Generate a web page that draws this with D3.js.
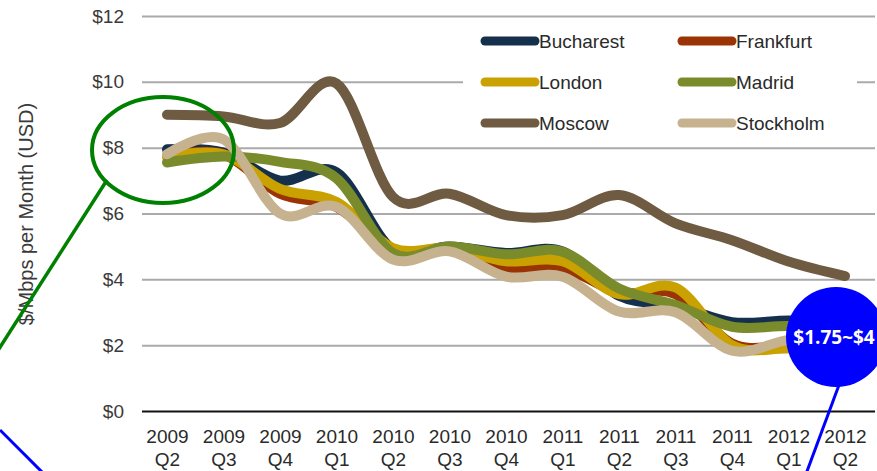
<!DOCTYPE html>
<html>
<head>
<meta charset="utf-8">
<script src="https://cdn.jsdelivr.net/npm/d3@7"></script>
<style>
  body { margin: 0; background: #fff; }
  svg { display: block; font-family: "Liberation Sans", Arial, sans-serif; }
</style>
</head>
<body>
<script>
// Data
const quarters = ["2009 Q2", "2009 Q3", "2009 Q4", "2010 Q1", "2010 Q2", "2010 Q3", "2010 Q4",
  "2011 Q1", "2011 Q2", "2011 Q3", "2011 Q4", "2012 Q1", "2012 Q2"];
const bucharest = [7.95, 7.85, 7.0, 7.25, 4.9, 5.0, 4.8, 4.85, 3.5, 3.2, 2.7, 2.75, 2.7];
const frankfurt = [7.75, 7.8, 6.6, 6.2, 4.9, 4.9, 4.35, 4.35, 3.6, 3.55, 2.05, 1.95, 1.75];
const london = [7.72, 7.8, 6.75, 6.35, 4.95, 4.95, 4.55, 4.55, 3.55, 3.75, 2.0, 1.9, 1.85];
const madrid = [7.55, 7.73, 7.57, 7.07, 4.8, 5.0, 4.76, 4.84, 3.72, 3.22, 2.56, 2.58, 2.5];
const moscow = [9.0, 8.95, 8.75, 9.95, 6.5, 6.6, 5.95, 5.95, 6.56, 5.7, 5.19, 4.54, 4.1];
const stockholm = [7.8, 8.25, 6.0, 6.2, 4.6, 4.85, 4.08, 4.08, 3.02, 3.0, 1.83, 2.16, 2.3];
const cities = ["Bucharest", "Frankfurt", "London", "Madrid", "Moscow", "Stockholm"];
const yTicks = [0, 2, 4, 6, 8, 10, 12];
const badgeText = "$1.75~$4";

const colors = ["#15304d", "#9a3404", "#c9a202", "#7a8b2c", "#6f5b41", "#c6b28e"];
const allSeries = [bucharest, frankfurt, london, madrid, moscow, stockholm];

const w = 877;
const h = 471;
const gridLeft = 142;
const gridRight = 875;

const svg = d3.select("body").append("svg").attr("width", w).attr("height", h);

// scales
const x = d3.scalePoint().domain(quarters).range([167, 845]);
const y = d3.scaleLinear().domain([0, 12]).range([411, 16]);

// y axis + grid
const yAxis = d3.axisLeft(y)
  .tickValues(yTicks)
  .tickSize(-(gridRight - gridLeft))
  .tickPadding(18)
  .tickFormat(d => "$" + d);

const gy = svg.append("g")
  .attr("transform", "translate(" + gridLeft + ",0)")
  .call(yAxis);
gy.select(".domain").remove();
gy.selectAll(".tick line")
  .attr("stroke", d => d === 0 ? "#111" : "#aaa")
  .attr("stroke-width", 2);
gy.selectAll(".tick text")
  .attr("fill", "#3a3a3a")
  .style("font-size", "19px");

// y title
svg.append("text")
  .attr("transform", "translate(33,214) rotate(-90)")
  .attr("text-anchor", "middle")
  .attr("fill", "#3a3a3a")
  .style("font-size", "20px")
  .text("$/Mbps per Month (USD)");

// x axis, two line labels
const xAxis = d3.axisBottom(x).tickSize(0).tickPadding(0);
const gx = svg.append("g")
  .attr("transform", "translate(0,411)")
  .call(xAxis);
gx.select(".domain").remove();
gx.selectAll(".tick text")
  .attr("fill", "#2a2a2a")
  .style("font-size", "19px")
  .text(null)
  .attr("y", 0)
  .attr("dy", null)
  .each(function (d) {
    const parts = d.split(" ");
    const t = d3.select(this);
    t.append("tspan").attr("x", 0).attr("y", 32).text(parts[0]);
    t.append("tspan").attr("x", 0).attr("y", 55).text(parts[1]);
  });

// lines
const line = d3.line()
  .x((d, i) => x(quarters[i]))
  .y(d => y(d))
  .curve(d3.curveCardinal.tension(0));

svg.append("g")
  .selectAll("path")
  .data(allSeries)
  .join("path")
  .attr("d", line)
  .attr("fill", "none")
  .attr("stroke", (d, i) => colors[i])
  .attr("stroke-width", 10)
  .attr("stroke-linecap", "round")
  .attr("stroke-linejoin", "round");

// legend box covers grid lines
svg.append("rect")
  .attr("x", 463).attr("y", 21)
  .attr("width", 394).attr("height", 123)
  .attr("fill", "#fff");

const legend = svg.append("g")
  .selectAll("g")
  .data(cities)
  .join("g")
  .attr("transform", (d, i) => "translate(" + (i % 2 === 0 ? 485 : 682) + "," + (41 + Math.floor(i / 2) * 41) + ")");
legend.append("line")
  .attr("x1", 0).attr("x2", 50)
  .attr("stroke", (d, i) => colors[i])
  .attr("stroke-width", 9)
  .attr("stroke-linecap", "round");
legend.append("text")
  .attr("x", 54)
  .attr("dy", "0.35em")
  .attr("fill", "#2a2a2a")
  .style("font-size", "19px")
  .text(d => d);

// annotations
svg.append("ellipse")
  .attr("cx", 163).attr("cy", 150)
  .attr("rx", 71).attr("ry", 53)
  .attr("fill", "none")
  .attr("stroke", "#008000")
  .attr("stroke-width", 4);
svg.append("line")
  .attr("x1", 107).attr("y1", 180)
  .attr("x2", -5).attr("y2", 355)
  .attr("stroke", "#008000")
  .attr("stroke-width", 3.5);

svg.append("line")
  .attr("x1", 0).attr("y1", 430)
  .attr("x2", 43).attr("y2", 473)
  .attr("stroke", "#0000ff")
  .attr("stroke-width", 3);

svg.append("line")
  .attr("x1", 839).attr("y1", 385)
  .attr("x2", 806).attr("y2", 474)
  .attr("stroke", "#0000ff")
  .attr("stroke-width", 3);
svg.append("circle")
  .attr("cx", 836).attr("cy", 337)
  .attr("r", 50)
  .attr("fill", "#0000ff");
svg.append("text")
  .attr("x", 834).attr("y", 337)
  .attr("dy", "0.36em")
  .attr("text-anchor", "middle")
  .attr("fill", "#fff")
  .style("font-family", "'Open Sans', sans-serif")
  .style("font-weight", "bold")
  .style("font-size", "19px")
  .text(badgeText);
</script>
</body>
</html>
